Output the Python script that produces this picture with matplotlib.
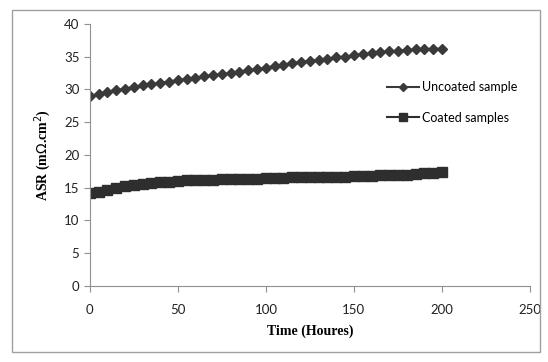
import matplotlib.pyplot as plt
from matplotlib.patches import Rectangle

# time in hours, every 5 h
hours = list(range(0, 205, 5))

uncoated = [29.0, 29.3, 29.6, 29.9, 30.1, 30.4, 30.6, 30.8, 31.0, 31.2,
            31.4, 31.6, 31.8, 32.0, 32.2, 32.3, 32.5, 32.7, 32.9, 33.1,
            33.3, 33.6, 33.8, 34.0, 34.2, 34.4, 34.5, 34.7, 34.9, 35.0,
            35.2, 35.4, 35.5, 35.7, 35.8, 35.9, 36.0, 36.1, 36.1, 36.2, 36.2]

coated = [14.2, 14.4, 14.7, 14.9, 15.2, 15.4, 15.6, 15.7, 15.8, 15.9,
          16.0, 16.1, 16.1, 16.2, 16.2, 16.3, 16.3, 16.3, 16.4, 16.4,
          16.5, 16.5, 16.5, 16.6, 16.6, 16.6, 16.7, 16.7, 16.7, 16.7,
          16.8, 16.8, 16.8, 16.9, 16.9, 16.9, 17.0, 17.1, 17.2, 17.3, 17.4]

x_ticks = [0, 50, 100, 150, 200, 250]
y_ticks = [0, 5, 10, 15, 20, 25, 30, 35, 40]

fig = plt.figure(figsize=(5.48, 3.62), dpi=100)
ax = fig.add_axes([0.164, 0.21, 0.803, 0.724])

# outer chart border
fig.patches.append(Rectangle((0.022, 0.028), 0.963, 0.944, transform=fig.transFigure,
                             fill=False, edgecolor='#a0a0a0', linewidth=1.0))

ax.plot(hours, uncoated, color='#3a3a3a', marker='D', markersize=5.5,
        linewidth=1.5, label='Uncoated sample')
ax.plot(hours, coated, color='#2e2e2e', marker='s', markersize=7,
        linewidth=1.5, label='Coated samples')

ax.set_xlim(0, 250)
ax.set_ylim(0, 40)
ax.set_xticks(x_ticks)
ax.set_yticks(y_ticks)

for s in ['top', 'right']:
    ax.spines[s].set_visible(False)
for s in ['left', 'bottom']:
    ax.spines[s].set_color('#909090')
    ax.spines[s].set_linewidth(0.8)

ax.tick_params(axis='both', colors='#909090', length=4, width=0.8, labelcolor='#222222',
               labelsize=9.5)
ax.tick_params(axis='x', pad=9)
for lbl in ax.get_xticklabels() + ax.get_yticklabels():
    lbl.set_family('Lato')

ax.set_xlabel('Time (Houres)', fontfamily='Liberation Serif', fontweight='bold',
              fontsize=10, labelpad=6)
ax.set_ylabel('ASR (m$\\Omega$.cm$^2$)', fontfamily='Liberation Serif', fontweight='bold',
              fontsize=10, labelpad=8)

leg = ax.legend(loc='center left', bbox_to_anchor=(0.675, 0.70), frameon=False,
                borderpad=0, borderaxespad=0, labelspacing=1.45, handlelength=2.6,
                handletextpad=0.2, markerscale=0.8,
                prop={'family': 'Lato', 'size': 9})

fig.savefig('out.png', dpi=100)
